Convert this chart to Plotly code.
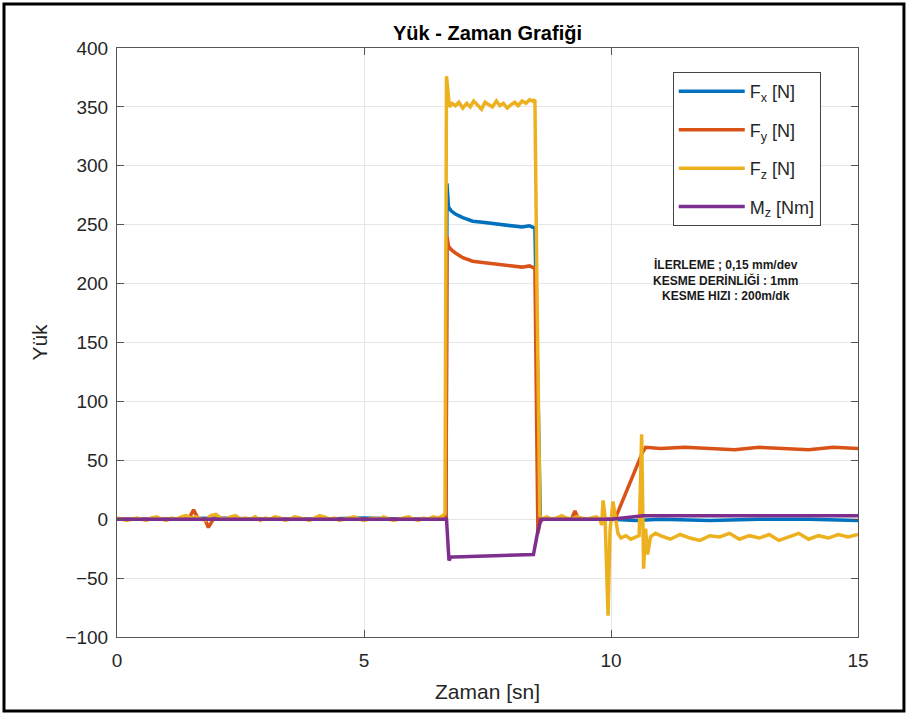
import plotly.graph_objects as go

# ---- data ----
fz_t = [0.0, 0.1, 0.2, 0.3, 0.4, 0.5, 0.6, 0.7, 0.8, 0.9, 1.0, 1.1, 1.2, 1.3, 1.4, 1.5, 1.6, 1.7, 1.8, 1.9,
        2.0, 2.1, 2.2, 2.3, 2.4, 2.5, 2.6, 2.7, 2.8, 2.9, 3.0, 3.1, 3.2, 3.3, 3.4, 3.5, 3.6, 3.7, 3.8, 3.9,
        4.0, 4.1, 4.2, 4.3, 4.4, 4.5, 4.6, 4.7, 4.8, 4.9, 5.0, 5.1, 5.2, 5.3, 5.4, 5.5, 5.6, 5.7, 5.8, 5.9,
        6.0, 6.1, 6.2, 6.3, 6.4, 6.5, 6.6,
        6.64, 6.67, 6.70, 6.73, 6.78, 6.85, 6.92, 7.0, 7.08, 7.15, 7.22, 7.3, 7.38, 7.45, 7.52, 7.6, 7.68,
        7.75, 7.82, 7.9, 7.98, 8.05, 8.12, 8.2, 8.28, 8.35, 8.42, 8.46, 8.5, 8.56, 8.6,
        8.7, 8.8, 8.9, 9.0, 9.1, 9.2, 9.3, 9.4, 9.5, 9.6, 9.7,
        9.78, 9.81, 9.84, 9.88, 9.94, 9.98, 10.04, 10.09, 10.14, 10.2, 10.3, 10.4, 10.5, 10.57, 10.62,
        10.66, 10.7, 10.74, 10.8, 10.9,
        11.0, 11.2, 11.4, 11.6, 11.8, 12.0, 12.2, 12.4, 12.6, 12.8, 13.0, 13.2, 13.4, 13.6, 13.8, 14.0,
        14.2, 14.4, 14.6, 14.8, 15.0]
fz_v = [1, 0, -1, 0, 1, 0, -1, 1, 2, 0, -1, 1, 0, 2, 3, 1, 2, 0, -1, 3,
        4, 1, 0, 2, 3, 0, 1, 0, 2, -1, 1, 0, 2, 1, -1, 0, 2, 1, 0, -1,
        1, 3, 2, 0, 1, -1, 0, 1, 2, 0, -1, 0, 1, 0, 2, 0, -1, 0, 1, 2,
        0, -1, 1, 0, 2, 1, 3,
        5, 376, 365, 350, 353, 351, 354, 349, 353, 350, 355, 351, 348, 354, 352, 350, 355,
        351, 353, 349, 352, 354, 351, 355, 353, 356, 355, 356, 200, 3, 0,
        2, 0, 1, 3, 1, 0, 2, 1, 0, 1, 2,
        0, -5, 16, 2, -82, -10, 15, 0, -12, -16, -14, -17, -15, -14, 72,
        -42, -8, -30, -15, -12,
        -14, -17, -13, -16, -18, -14, -15, -12, -17, -14, -16, -13, -18, -15, -12, -17,
        -14, -16, -13, -15, -13]

fx_t = [0, 1.0, 2.0, 3.0, 4.0, 5.0, 6.0, 6.66, 6.68, 6.71, 6.76, 6.85, 7.0, 7.2, 7.4, 7.6, 7.8, 8.0,
        8.2, 8.35, 8.46, 8.57, 9.0, 10.0, 10.5, 11, 12, 13, 14, 15]
fx_v = [0, 0, 1, 0, 0, 1, 0, 0, 285, 265, 262, 259, 256, 253, 252, 251, 250, 249,
        248, 249, 247, 0, 0, 0, -1, 0, -1, 0, 0, -1]

fy_t = [0, 1.0, 1.45, 1.55, 1.65, 1.78, 1.85, 1.95, 3.0, 5.0, 6.66, 6.68, 6.71, 6.76, 6.85, 7.0, 7.2,
        7.4, 7.6, 7.8, 8.0, 8.2, 8.35, 8.46, 8.52, 8.56, 8.62, 9.2, 9.27, 9.34, 10.0, 10.1, 10.63,
        10.7, 11.0, 11.5, 12.0, 12.5, 13.0, 13.5, 14.0, 14.5, 15.0]
fy_v = [0, 0, 0, 8, 0, 0, -7, 0, 0, 0, 0, 240, 232, 229, 226, 222, 219,
        218, 217, 216, 215, 214, 215, 213, -12, -3, 0, 0, 7, 0, 0, 2, 56,
        61, 60, 61, 60, 59, 61, 60, 59, 61, 60]

mz_t = [0, 3, 6.67, 6.72, 6.76, 6.82, 7.5, 8.3, 8.43, 8.52, 8.58, 9.0, 10.0, 10.65, 11, 15]
mz_v = [0, 0, 0, -35, -32, -32, -31, -30.5, -30, -10, 0, 0, 0, 3, 3, 3]

names = ["F<sub>x</sub> [N]", "F<sub>y</sub> [N]", "F<sub>z</sub> [N]", "M<sub>z</sub> [Nm]"]
colors = ["#0072BD", "#D95319", "#EDB120", "#7E2F8E"]
x_ticks = [0, 5, 10, 15]
y_ticks = [-100, -50, 0, 50, 100, 150, 200, 250, 300, 350, 400]

series = [(fx_t, fx_v), (fy_t, fy_v), (fz_t, fz_v), (mz_t, mz_v)]

fig = go.Figure()
for i, ((t, v), n, c) in enumerate(zip(series, names, colors)):
    fig.add_trace(go.Scatter(x=t, y=v, mode="lines", name=n, legendgroup=f"g{i}",
                             line=dict(color=c, width=3.5)))

fig.update_layout(
    width=907, height=715,
    margin=dict(l=117, r=49, t=48, b=78),
    paper_bgcolor="white", plot_bgcolor="white",
    font=dict(family="Liberation Sans, Arial", color="#262626"),
    title=dict(text="<b>Yük - Zaman Grafiği</b>", x=0.5375, xanchor="center",
               y=0.954, yanchor="middle", font=dict(size=20, color="black")),
    showlegend=True,
    legend=dict(x=0.750, y=0.959, xanchor="left", yanchor="top",
                bgcolor="white", bordercolor="#444", borderwidth=1,
                font=dict(size=18, color="#262626"), tracegroupgap=12,
                itemwidth=66),
    annotations=[dict(x=12.31, y=203, xref="x", yref="y",
                      text="<b>İLERLEME ; 0,15 mm/dev<br>KESME DERİNLİĞİ : 1mm<br>KESME HIZI : 200m/dk</b>",
                      showarrow=False, align="center",
                      font=dict(size=12, color="#1a1a1a"))],
    shapes=[dict(type="rect", xref="paper", yref="paper",
                 x0=-0.1525, x1=1.062, y0=-0.1256, y1=1.0747,
                 line=dict(color="black", width=3), layer="above")],
)

axis_common = dict(showline=True, linecolor="#555", linewidth=1, mirror="ticks",
                   ticks="inside", ticklen=7, tickcolor="#555",
                   showgrid=True, gridcolor="#e6e6e6", gridwidth=1, zeroline=False,
                   tickfont=dict(size=19, color="#262626"))

fig.update_xaxes(range=[0, 15], tickvals=x_ticks, ticklabelstandoff=6,
                 title=dict(text="Zaman [sn]", font=dict(size=21, color="#262626"), standoff=14),
                 **axis_common)
fig.update_yaxes(range=[-100, 400], tickvals=y_ticks, ticklabelstandoff=4,
                 title=dict(text="Yük", font=dict(size=21, color="#262626"), standoff=12),
                 **axis_common)

fig.write_html("out.html", config={"displayModeBar": False},
               post_script="document.body.style.margin='0';")
